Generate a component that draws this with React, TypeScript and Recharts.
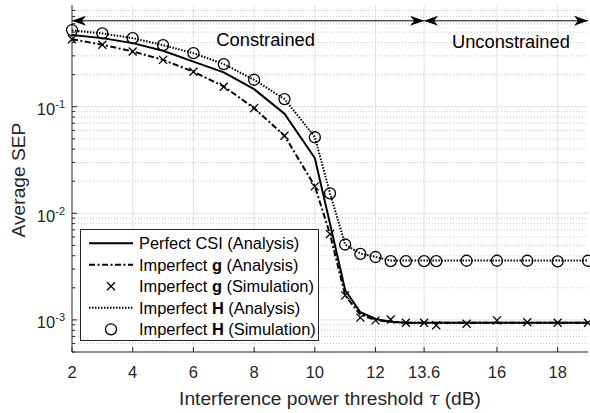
import React from 'react';
import {
  LineChart,
  Line,
  XAxis,
  YAxis,
  CartesianGrid,
  Legend,
  ReferenceLine,
  ReferenceDot,
} from 'recharts';

// interference power threshold tau (dB)
const tau = [2, 3, 4, 5, 6, 7, 8, 9, 10, 10.5, 11, 11.5, 12, 12.5, 13, 13.6, 14, 15, 16, 17, 18, 19];

const perfectCsi = [0.47, 0.44, 0.395, 0.335, 0.265, 0.21, 0.146, 0.086, 0.033, 0.008, 0.0019, 0.00118, 0.00102, 0.00096, 0.00094, 0.00094, 0.00094, 0.00094, 0.00094, 0.00094, 0.00094, 0.00094];
const gAnalysis = [0.43, 0.381, 0.33, 0.275, 0.213, 0.155, 0.097, 0.0535, 0.018, 0.0064, 0.0017, 0.00112, 0.001, 0.00096, 0.00094, 0.00094, 0.00094, 0.00094, 0.00094, 0.00094, 0.00094, 0.00094];
const gSimulation = [0.43, 0.381, 0.33, 0.275, 0.213, 0.154, 0.097, 0.0535, 0.0179, 0.0064, 0.0017, 0.00105, 0.00099, 0.00101, 0.00094, 0.00094, 0.00089, 0.00092, 0.00099, 0.00095, 0.00094, 0.00094];
const hAnalysis = [0.52, 0.487, 0.44, 0.378, 0.318, 0.251, 0.179, 0.118, 0.052, 0.0154, 0.0051, 0.0042, 0.0039, 0.0036, 0.0036, 0.0036, 0.0036, 0.0036, 0.0036, 0.0036, 0.0036, 0.0036];
const hSimulation = [0.524, 0.488, 0.44, 0.378, 0.318, 0.251, 0.179, 0.118, 0.0517, 0.0154, 0.0051, 0.00416, 0.00389, 0.00356, 0.00356, 0.00356, 0.00356, 0.00359, 0.00359, 0.00359, 0.00354, 0.00359];

const xTicks = [2, 4, 6, 8, 10, 12, 13.6, 16, 18];
const xGrid = [4, 6, 8, 10, 12, 13.6, 16, 18];
const yMajor = [0.001, 0.01, 0.1];
const yMinor = [
  0.0005, 0.0006, 0.0007, 0.0008, 0.0009,
  0.002, 0.003, 0.004, 0.005, 0.006, 0.007, 0.008, 0.009,
  0.02, 0.03, 0.04, 0.05, 0.06, 0.07, 0.08, 0.09,
  0.2, 0.3, 0.4, 0.5, 0.6, 0.7, 0.8,
];
const yTicks = [...yMajor, ...yMinor];

const legendItems = [
  { pre: 'Perfect CSI', bold: '', post: ' (Analysis)' },
  { pre: 'Imperfect ', bold: 'g', post: ' (Analysis)' },
  { pre: 'Imperfect ', bold: 'g', post: ' (Simulation)' },
  { pre: 'Imperfect ', bold: 'H', post: ' (Analysis)' },
  { pre: 'Imperfect ', bold: 'H', post: ' (Simulation)' },
];

const data = tau.map((t, i) => ({
  tau: t,
  perfect: perfectCsi[i],
  gAna: gAnalysis[i],
  gSim: gSimulation[i],
  hAna: hAnalysis[i],
  hSim: hSimulation[i],
}));

const AXIS = '#262626';
const FONT = '"Liberation Sans", Arial, Helvetica, sans-serif';

function CrossDot(p: any) {
  const { cx, cy } = p;
  if (cx == null || cy == null) return null;
  const s = 4;
  return (
    <path
      d={`M${cx - s},${cy - s}L${cx + s},${cy + s}M${cx - s},${cy + s}L${cx + s},${cy - s}`}
      stroke="#000"
      strokeWidth={1.3}
      fill="none"
    />
  );
}

function CircleDot(p: any) {
  const { cx, cy } = p;
  if (cx == null || cy == null) return null;
  return <circle cx={cx} cy={cy} r={5.5} stroke="#000" strokeWidth={1.3} fill="none" />;
}

function XTick(p: any) {
  const { x, y, payload, side } = p;
  if (side === 'top') {
    return <line x1={x} y1={y} x2={x} y2={y + 5} stroke={AXIS} />;
  }
  return (
    <g>
      <line x1={x} y1={y} x2={x} y2={y - 5} stroke={AXIS} />
      <text x={x} y={y + 26} textAnchor="middle" fontSize={16.5} fill={AXIS}>
        {payload.value}
      </text>
    </g>
  );
}

function YTick(p: any) {
  const { x, y, payload, side } = p;
  const v = payload.value;
  const major = yMajor.includes(v);
  const len = major ? 5 : 3;
  if (side === 'right') {
    return <line x1={x} y1={y} x2={x - len} y2={y} stroke={AXIS} />;
  }
  return (
    <g>
      <line x1={x} y1={y} x2={x + len} y2={y} stroke={AXIS} />
      {major && (
        <text x={x - 7} y={y + 8.5} textAnchor="end" fontSize={16.5} fill={AXIS}>
          10
          <tspan dy={-7} fontSize={11}>
            {String(Math.round(Math.log10(v)))}
          </tspan>
        </text>
      )}
    </g>
  );
}

function ArrowLine(p: any) {
  const { x1, y1, x2, y2 } = p;
  const head = (x: number, y: number, dir: number) =>
    `M${x},${y}L${x - dir * 14},${y - 5}L${x - dir * 10},${y}L${x - dir * 14},${y + 5}Z`;
  return (
    <g>
      <line x1={x1} y1={y1} x2={x2} y2={y2} stroke="#000" strokeWidth={1} />
      <path d={head(x1, y1, -1)} fill="#000" />
      <path d={head(x2, y2, 1)} fill="#000" />
    </g>
  );
}

function NoteText(label: string) {
  return (p: any) => (
    <text x={p.cx} y={p.cy + 6.5} textAnchor="middle" fontSize={18.3} fill="#000">
      {label}
    </text>
  );
}

function LegendBox() {
  const rows = [14.3, 35.8, 57.3, 78.8, 100.3];
  return (
    <svg width={240} height={113} style={{ display: 'block', fontFamily: FONT }}>
      <rect x={0.5} y={0.5} width={238} height={111} fill="#fff" stroke={AXIS} />
      <line x1={9} x2={53} y1={rows[0]} y2={rows[0]} stroke="#000" strokeWidth={2} />
      <line x1={9} x2={53} y1={rows[1]} y2={rows[1]} stroke="#000" strokeWidth={2} strokeDasharray="6 2.5 2 2.5" />
      <CrossDot cx={31} cy={rows[2]} />
      <line x1={9} x2={53} y1={rows[3]} y2={rows[3]} stroke="#000" strokeWidth={2} strokeDasharray="1.5 1.5" />
      <CircleDot cx={31} cy={rows[4]} />
      {legendItems.map((it, i) => (
        <text key={i} x={59} y={rows[i] + 5.7} fontSize={16.4} fill="#000">
          {it.pre}
          {it.bold && <tspan fontWeight="bold">{it.bold}</tspan>}
          {it.post}
        </text>
      ))}
    </svg>
  );
}

export default function App() {
  return (
    <div style={{ position: 'absolute', left: 0, top: 0, width: 590, height: 413, background: '#fff', fontFamily: FONT }}>
      <LineChart width={590} height={413} data={data} margin={{ top: 5, right: 2, bottom: 31, left: 0 }}>
        <CartesianGrid horizontalValues={yMinor} vertical={false} stroke="#c4c4c4" strokeDasharray="1 2" />
        <CartesianGrid horizontalValues={yMajor} verticalValues={xGrid} stroke="#e2e2e2" />
        <XAxis
          dataKey="tau"
          type="number"
          domain={[2, 19]}
          ticks={xTicks}
          interval={0}
          height={30}
          tickSize={0}
          tickMargin={0}
          tickLine={false}
          stroke={AXIS}
          tick={(p: any) => <XTick {...p} side="bottom" />}
        />
        <XAxis
          xAxisId="top"
          orientation="top"
          dataKey="tau"
          type="number"
          domain={[2, 19]}
          ticks={xTicks}
          interval={0}
          height={0}
          tickSize={0}
          tickMargin={0}
          tickLine={false}
          stroke={AXIS}
          tick={(p: any) => <XTick {...p} side="top" />}
        />
        <YAxis
          scale="log"
          type="number"
          domain={[0.0005, 0.9]}
          allowDataOverflow
          ticks={yTicks}
          interval={0}
          width={72}
          tickSize={0}
          tickMargin={0}
          tickLine={false}
          stroke={AXIS}
          tick={(p: any) => <YTick {...p} side="left" />}
        />
        <YAxis
          yAxisId="right"
          orientation="right"
          scale="log"
          type="number"
          domain={[0.0005, 0.9]}
          allowDataOverflow
          ticks={yTicks}
          interval={0}
          width={0}
          tickSize={0}
          tickMargin={0}
          tickLine={false}
          stroke={AXIS}
          tick={(p: any) => <YTick {...p} side="right" />}
        />
        <Line dataKey="hAna" stroke="#000" strokeWidth={2} strokeDasharray="1.5 1.5" dot={false} isAnimationActive={false} />
        <Line dataKey="hSim" stroke="none" dot={<CircleDot />} activeDot={false} isAnimationActive={false} />
        <Line dataKey="gAna" stroke="#000" strokeWidth={2} strokeDasharray="6 2.5 2 2.5" dot={false} isAnimationActive={false} />
        <Line dataKey="gSim" stroke="none" dot={<CrossDot />} activeDot={false} isAnimationActive={false} />
        <Line dataKey="perfect" stroke="#000" strokeWidth={2} dot={false} isAnimationActive={false} />
        <ReferenceLine segment={[{ x: 2, y: 0.64 }, { x: 13.6, y: 0.64 }]} shape={(p: any) => <ArrowLine {...p} />} />
        <ReferenceLine segment={[{ x: 13.6, y: 0.64 }, { x: 19, y: 0.64 }]} shape={(p: any) => <ArrowLine {...p} />} />
        <ReferenceDot x={8.38} y={0.425} shape={NoteText('Constrained')} />
        <ReferenceDot x={16.46} y={0.413} shape={NoteText('Unconstrained')} />
        <Legend
          layout="vertical"
          align="center"
          verticalAlign="middle"
          wrapperStyle={{ left: 80, top: 229, width: 240, height: 113 }}
          content={() => <LegendBox />}
        />
      </LineChart>
      <svg width={590} height={413} style={{ position: 'absolute', left: 0, top: 0, pointerEvents: 'none', fontFamily: FONT }}>
        <text x={25} y={180} transform="rotate(-90 25 180)" textAnchor="middle" fontSize={19.2} fill={AXIS}>
          Average SEP
        </text>
        <text x={330} y={405} textAnchor="middle" fontSize={19.2} fill={AXIS}>
          Interference power threshold <tspan fontStyle="italic" fontFamily="'DejaVu Serif', serif">τ</tspan> (dB)
        </text>
      </svg>
    </div>
  );
}
